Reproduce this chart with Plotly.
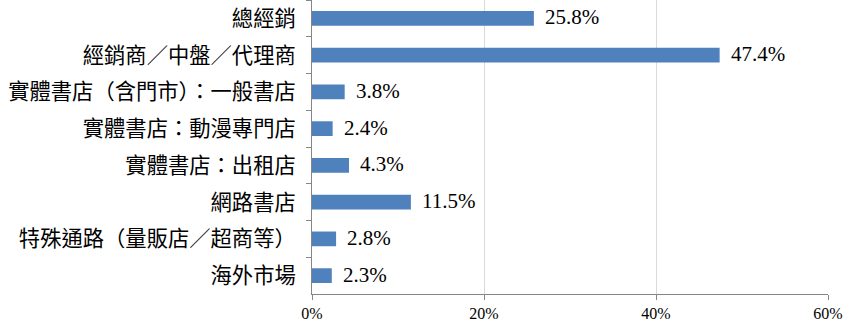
import plotly.graph_objects as go

categories = ["總經銷", "經銷商／中盤／代理商", "實體書店（含門市）：一般書店", "實體書店：動漫專門店",
              "實體書店：出租店", "網路書店", "特殊通路（量販店／超商等）", "海外市場"]
values = [25.8, 47.4, 3.8, 2.4, 4.3, 11.5, 2.8, 2.3]
tick_vals = [0, 20, 40, 60]
tick_text = ["0%", "20%", "40%", "60%"]

font_family = "Liberation Serif, 'Noto Sans CJK TC', serif"

fig = go.Figure()
fig.add_trace(go.Bar(
    y=categories, x=values, orientation="h",
    marker=dict(color="#4F81BD", line=dict(width=0)),
    hoverinfo="skip",
))
for c, v in zip(categories, values):
    fig.add_annotation(x=v, y=c, text=f"{v:.1f}%", showarrow=False,
                       xanchor="left", xshift=9, yshift=1,
                       font=dict(size=21, color="#000000", family=font_family))

fig.update_layout(
    width=857, height=326,
    margin=dict(l=312, r=29, t=0, b=32),
    paper_bgcolor="white", plot_bgcolor="white",
    showlegend=False, bargap=0.6,
    font=dict(family=font_family, color="#000000"),
)
fig.update_xaxes(range=[0, 60], tickvals=tick_vals, ticktext=tick_text,
                 showgrid=True, gridcolor="#D9D9D9", gridwidth=1,
                 showline=True, linecolor="#868686", linewidth=1,
                 ticks="outside", ticklen=5, tickcolor="#868686",
                 tickfont=dict(size=16, family=font_family), zeroline=False)
fig.update_yaxes(categoryorder="array", categoryarray=categories, autorange="reversed",
                 showline=True, linecolor="#868686", linewidth=1,
                 ticks="outside", ticklen=5, tickcolor="#868686",
                 tickson="boundaries", ticklabelstandoff=11,
                 tickfont=dict(size=21.3, family=font_family), showgrid=False)

fig.write_html("out.html")
